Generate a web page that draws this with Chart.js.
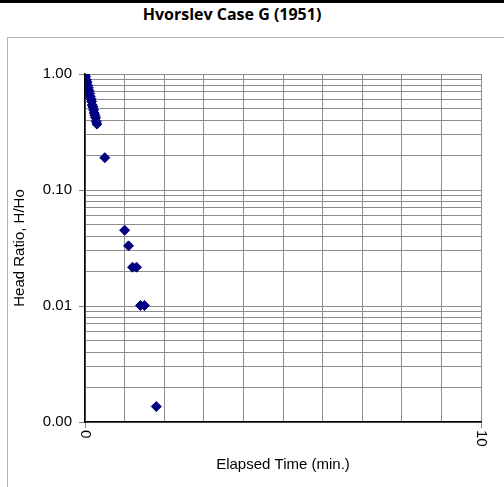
<!DOCTYPE html>
<html>
<head>
<meta charset="utf-8">
<script src="https://cdn.jsdelivr.net/npm/chart.js@4/dist/chart.umd.min.js"></script>
<style>
  html, body { margin: 0; padding: 0; background: #fff; }
  body { width: 504px; height: 487px; position: relative; overflow: hidden; }
  #topline { position: absolute; left: 0; top: 0; width: 504px; height: 3px; background: #000; }
  #title { position: absolute; left: 0; top: 4px; width: 464px; text-align: center;
           font-family: "Open Sans", "Liberation Sans", sans-serif; font-weight: 700;
           font-size: 16px; line-height: 20px; color: #000; }
  #box { position: absolute; left: 7px; top: 37px; width: 600px; height: 600px; border: 1px solid #b4b4b4; }
  #c { position: absolute; left: 0; top: 0; }
</style>
</head>
<body>
<div id="topline"></div>
<div id="title">Hvorslev Case G (1951)</div>
<div id="box"></div>
<canvas id="c" width="504" height="487"></canvas>
<script>
// ---- data ----
const elapsedMin = [0, 0.017, 0.033, 0.05, 0.067, 0.083, 0.1, 0.117, 0.133, 0.15, 0.167, 0.183, 0.2, 0.217, 0.233, 0.25, 0.267, 0.283, 0.3, 0.5, 1.0, 1.1, 1.2, 1.3, 1.4, 1.5, 1.8];
const headRatio  = [1.00, 0.95, 0.89, 0.85, 0.80, 0.76, 0.72, 0.68, 0.64, 0.61, 0.58, 0.54, 0.52, 0.49, 0.46, 0.44, 0.42, 0.39, 0.37, 0.19, 0.045, 0.033, 0.0216, 0.0216, 0.0101, 0.0101, 0.00136];
const yDecades = [0.001, 0.01, 0.1, 1];
const yMinorMultipliers = [1, 2, 3, 4, 5, 6, 7, 8, 9];
const xLabelValues = [0, 10];
const xTitle = 'Elapsed Time (min.)';
const yTitle = 'Head Ratio, H/Ho';

const points = elapsedMin.map((x, i) => ({ x: x, y: headRatio[i] }));
const isDecade = v => yDecades.some(d => Math.abs(v - d) / d < 1e-6);
const FONT = "'Liberation Sans', Arial, sans-serif";

const xLabelPlugin = {
  id: 'xRotLabels',
  afterDraw(chart) {
    const sx = chart.scales.x;
    const ctx = chart.ctx;
    ctx.save();
    ctx.fillStyle = '#000';
    ctx.font = '15px ' + FONT;
    ctx.textAlign = 'left';
    ctx.textBaseline = 'middle';
    xLabelValues.forEach(v => {
      const px = sx.getPixelForValue(v);
      ctx.save();
      ctx.translate(px, sx.top + 8);
      ctx.rotate(Math.PI / 2);
      ctx.fillText(String(v), 0, 0);
      ctx.restore();
    });
    ctx.restore();
  }
};

new Chart(document.getElementById('c'), {
  type: 'scatter',
  data: {
    datasets: [{
      data: points,
      pointStyle: 'rectRot',
      pointRadius: 5,
      pointHoverRadius: 5,
      backgroundColor: '#000080',
      borderColor: '#000080',
      borderWidth: 1
    }]
  },
  options: {
    responsive: false,
    animation: false,
    layout: { padding: { left: 0, right: 23, top: 74, bottom: 0 } },
    plugins: { legend: { display: false }, tooltip: { enabled: false }, title: { display: false } },
    scales: {
      x: {
        type: 'linear',
        min: 0, max: 10,
        ticks: { stepSize: 1, display: false },
        grid: {
          color: '#8c8c8c',
          lineWidth: 1,
          drawTicks: true,
          tickLength: 6,
          tickColor: c => (c.tick && xLabelValues.includes(c.tick.value)) ? '#808080' : 'rgba(0,0,0,0)'
        },
        border: { color: '#000', width: 1.5 },
        title: {
          display: true, text: xTitle, color: '#000',
          font: { family: FONT, size: 15, lineHeight: 1.2 },
          padding: { top: 0, bottom: 13 }
        },
        afterFit(scale) { scale.height = 65; }
      },
      y: {
        type: 'logarithmic',
        min: 0.001, max: 1,
        afterBuildTicks(scale) {
          const t = [];
          yDecades.slice(0, -1).forEach(d => yMinorMultipliers.forEach(m => t.push({ value: +(d * m).toPrecision(6) })));
          t.push({ value: 1 });
          scale.ticks = t;
        },
        ticks: {
          autoSkip: false,
          color: '#000',
          padding: 7,
          font: { family: FONT, size: 15 },
          callback: v => isDecade(v) ? Number(v).toFixed(2) : ''
        },
        grid: {
          color: '#8c8c8c',
          lineWidth: 1,
          tickLength: 6,
          tickColor: c => (c.tick && isDecade(c.tick.value)) ? '#808080' : 'rgba(0,0,0,0)'
        },
        border: { color: '#000', width: 1.5 },
        title: {
          display: true, text: yTitle, color: '#000',
          font: { family: FONT, size: 15, lineHeight: 1.2 },
          padding: { top: 11, bottom: 0 }
        },
        afterFit(scale) { scale.width = 85; }
      }
    }
  },
  plugins: [xLabelPlugin]
});
</script>
</body>
</html>
